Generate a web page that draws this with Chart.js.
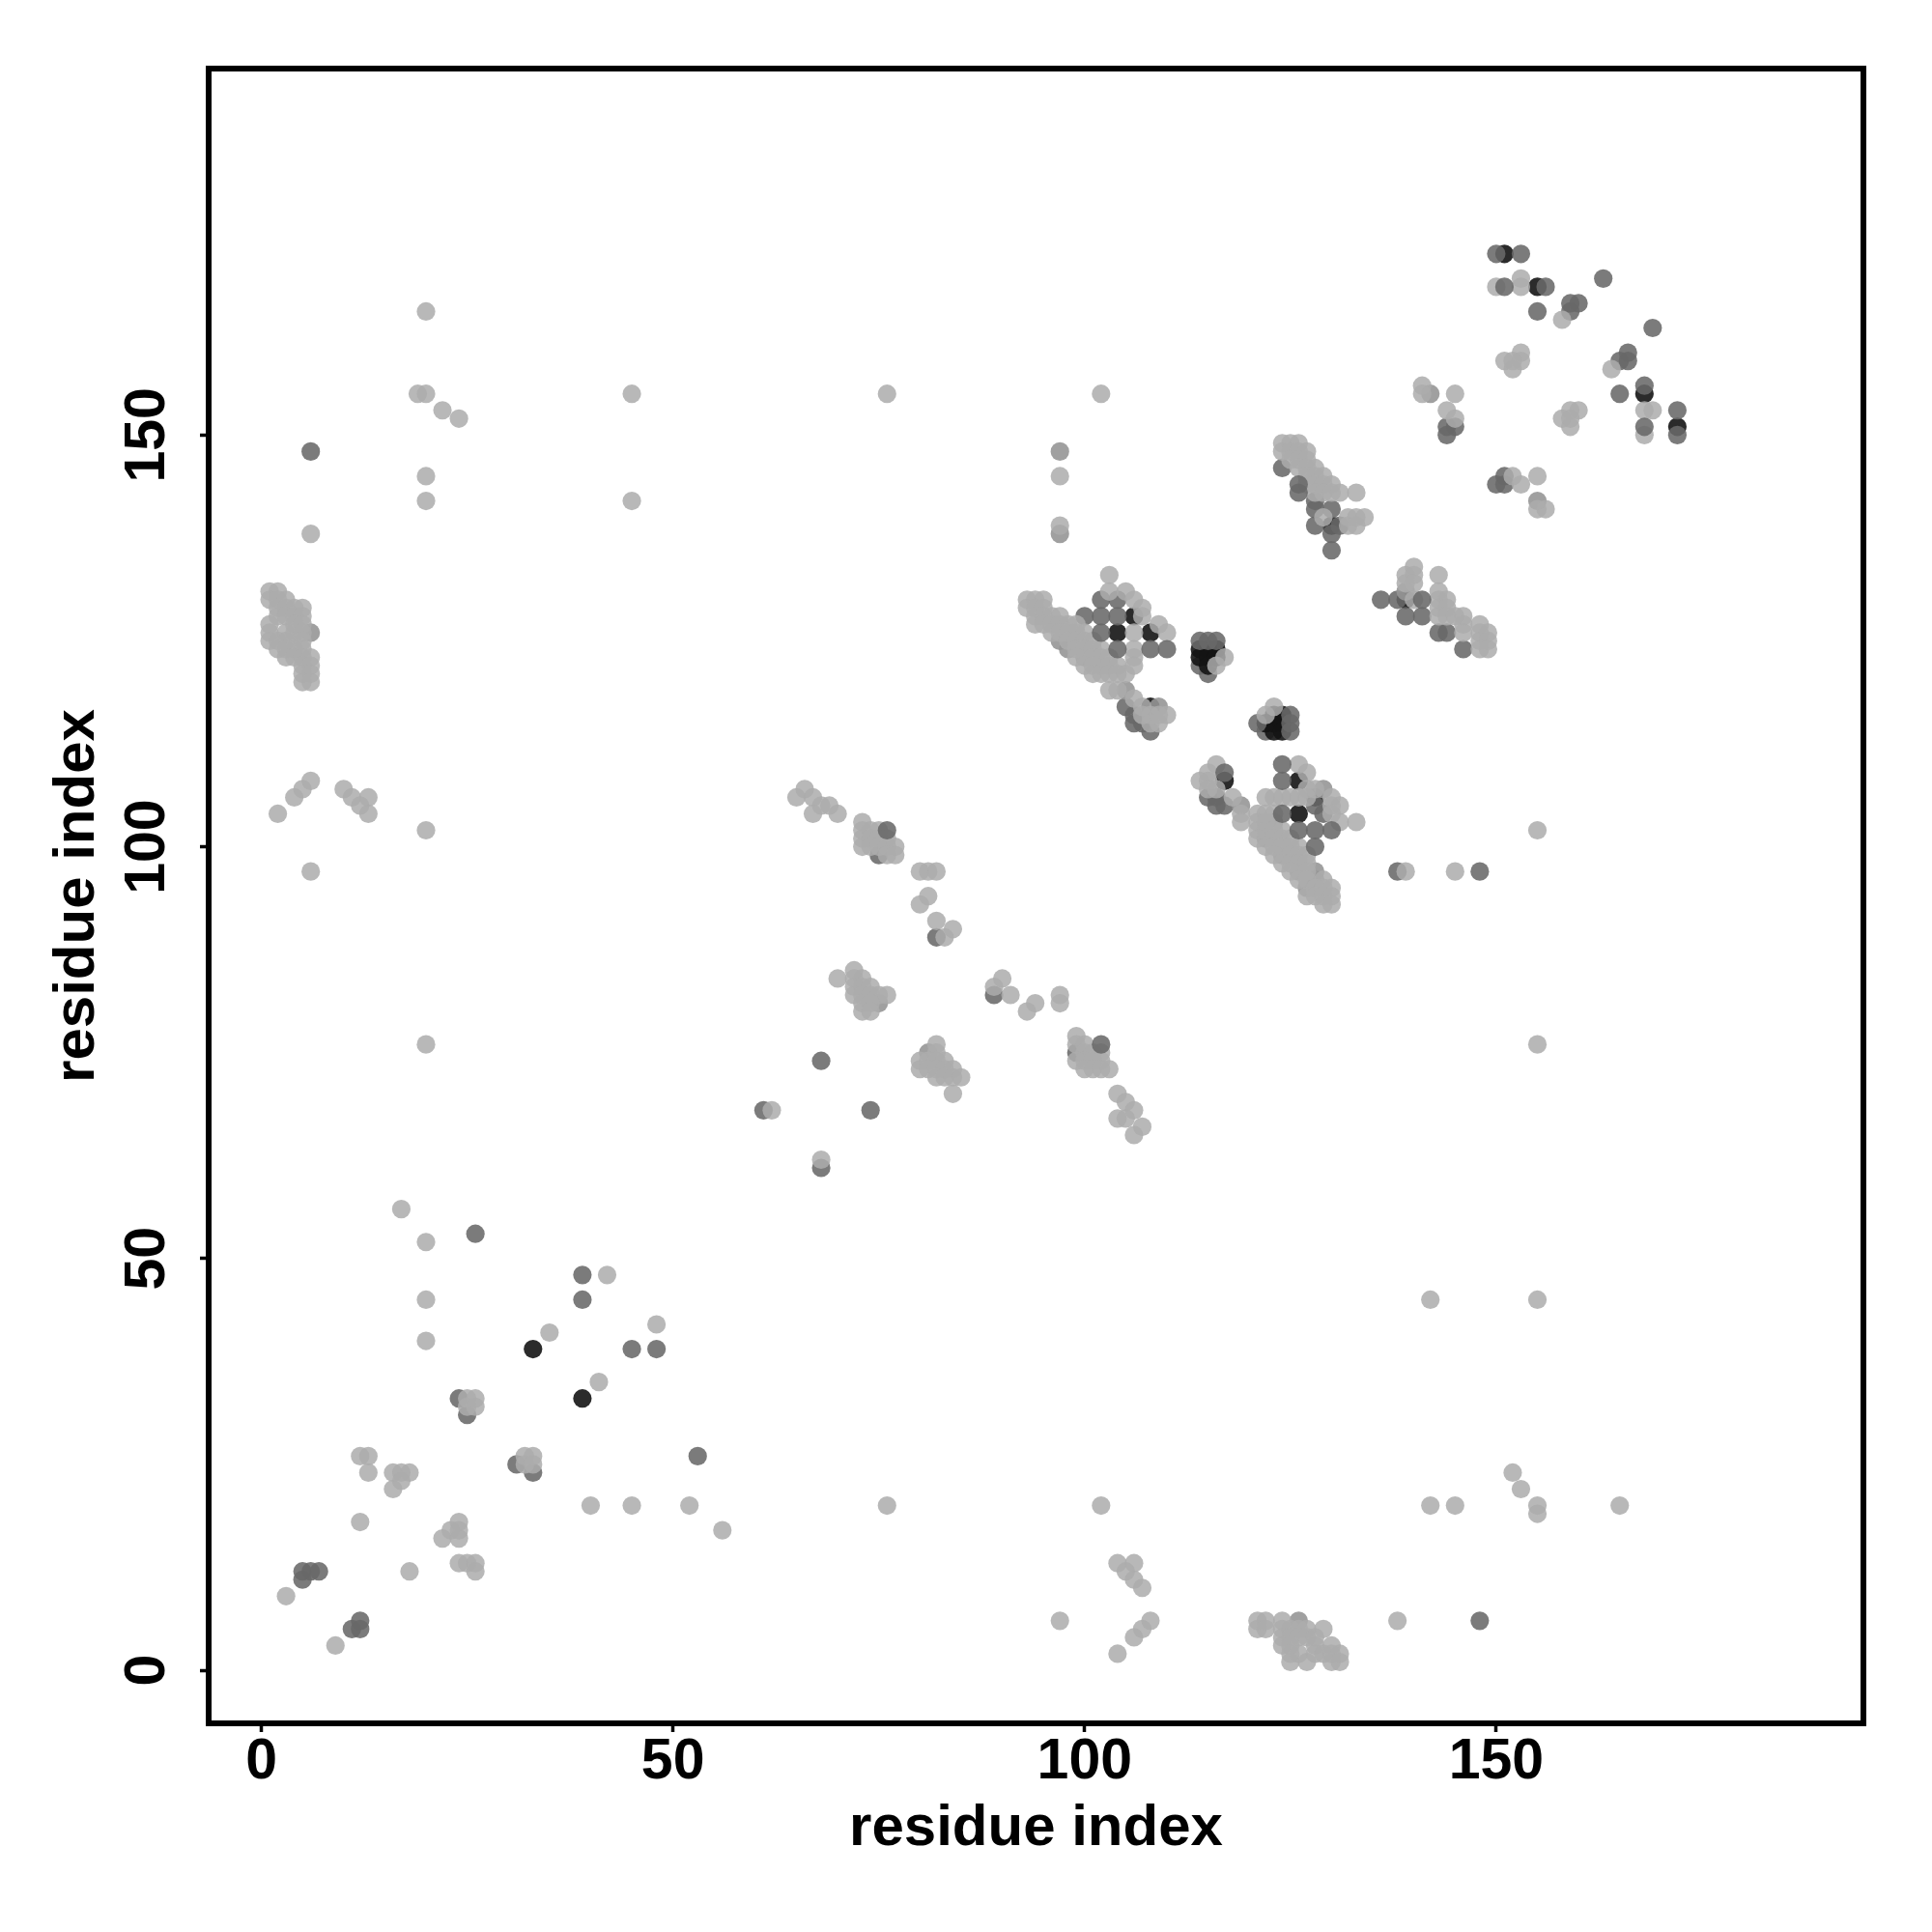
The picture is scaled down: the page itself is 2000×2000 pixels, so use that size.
<!DOCTYPE html>
<html>
<head>
<meta charset="utf-8">
<title>residue contacts</title>
<script src="https://cdn.jsdelivr.net/npm/chart.js@4"></script>
<style>
  body { margin: 0; background: #fff; }
</style>
</head>
<body>
<canvas id="contactChart" width="2000" height="2000"></canvas>
<script>
const axisTicks = [0, 50, 100, 150];
const axisTitle = "residue index";

// contacts as [x, y] pairs, one list per grey level
const underPoints = [
  [114,122],[115,121],[122,114]
];

const darkPoints = [
  [33,39],[39,33],[104,126],[108,126],[106,128],[108,117],
  [114,124],[115,124],[116,124],[114,123],[115,123],[116,123],[115,122],
  [122,115],[123,116],[123,115],[123,114],[124,116],[124,115],[124,114],
  [117,108],[126,108],[126,104],[128,106],[130,139],[139,130],
  [151,172],[155,168],[168,155],[172,151]
];

const midPoints = [
  [11,5],[12,5],[12,6],[5,12],[6,12],[7,12],[5,11],[24,33],[25,31],[31,25],[33,24],
  [53,26],[26,53],[39,48],[39,45],[45,39],[48,39],[6,148],
  [68,74],[74,68],[61,68],[68,61],[75,99],[82,89],[89,82],[99,75],
  [138,97],[148,97],
  [102,130],[104,130],[100,128],[105,117],[106,116],[106,115],[108,114],[107,115],
  [114,125],[115,125],[116,125],
  [121,115],[125,116],[125,115],[125,114],
  [115,106],[116,106],[116,105],[117,105],
  [128,105],[129,104],
  [124,146],[128,142],[128,141],[130,141],[128,139],[130,138],[130,136],[131,139],
  [136,130],[138,130],[139,128],[141,128],[143,126],[144,126],[146,124],
  [150,172],[153,172],[155,165],[159,165],[159,166],[160,166],
  [163,169],[169,163],[165,159],[166,159],[166,160],[165,155],[172,153],[172,150],
  [144,151],[145,151],[144,150],[150,144],[151,145],[151,144]
];

const palePoints = [
  [6,126],[81,75],[75,81],[97,148],[97,138],[105,119],[109,117],[119,105],[129,107],
  [128,97],[126,6],[155,142],[142,155],[139,131],[97,125],[98,124],[100,123],[102,122],
  [122,101],[124,99],[126,97],[127,95],[128,96],[123,103]
];

const lightPoints = [
  [3,9],[9,3],[12,18],[12,26],[13,26],[13,24],[16,24],[17,24],[18,24],[16,22],[17,23],[18,12],
  [22,16],[23,17],[24,18],[24,16],[24,17],[24,13],[25,13],[26,13],[26,12],
  [25,33],[25,32],[26,33],[26,32],[32,26],[33,26],[32,25],[33,25],
  [40,20],[45,20],[52,20],[56,17],[17,56],[20,52],[20,45],[20,40],[42,48],[35,41],[41,35],[48,42],
  [20,165],[19,155],[20,155],[22,153],[24,152],[20,145],[20,142],[6,138],[45,155],[45,142],[76,155],[102,155],
  [1,131],[2,131],[1,130],[2,130],[3,130],[2,129],[3,129],[4,129],[5,129],[2,128],[3,128],[4,128],[5,128],
  [1,127],[4,127],[5,127],[1,126],[3,126],[4,126],[5,126],[1,125],[2,125],[3,125],[5,125],[2,124],[3,124],[4,124],[5,124],
  [3,123],[4,123],[5,123],[6,123],[5,122],[6,122],[5,121],[6,121],[5,120],[6,120],
  [2,104],[4,106],[5,107],[6,108],[10,107],[11,106],[12,105],[13,106],[13,104],[20,102],[6,97],[20,76],
  [65,106],[66,107],[67,106],[67,104],[68,105],[69,105],[70,104],
  [73,103],[73,102],[74,102],[75,102],[73,101],[74,101],[75,101],[76,101],[73,100],[74,100],[75,100],[76,100],[77,100],[76,99],[77,99],
  [80,97],[81,97],[82,97],[80,93],[81,94],[82,91],[83,89],[84,90],
  [89,83],[90,84],[91,82],[93,80],[94,81],[97,82],[97,81],
  [70,84],[72,85],[72,84],[73,84],[72,83],[73,83],[74,83],[72,82],[73,82],[74,82],[75,82],[76,82],[73,81],[74,81],[73,80],[74,80],
  [82,76],[82,75],[80,74],[81,74],[82,74],[83,74],[80,73],[81,73],[82,73],[83,73],[84,73],[82,72],[83,72],[84,72],[85,72],[84,70],
  [62,68],[68,62],
  [99,77],[99,76],[100,76],[100,75],[101,75],[102,75],[99,74],[100,74],[101,74],[102,74],[100,73],[101,73],[102,73],[103,73],
  [104,70],[105,69],[106,68],[104,67],[105,67],[106,65],[107,66],
  [139,97],[145,97],[155,102],[155,76],[97,145],[97,139],
  [103,133],[103,131],[105,131],[106,130],[107,129],[107,128],[109,127],[110,126],[106,126],[102,124],[106,124],[106,123],[106,122],
  [93,130],[94,130],[95,130],[93,129],[94,129],[95,129],[94,128],[95,128],[96,128],[97,128],
  [94,127],[95,127],[96,127],[97,127],[98,127],[99,127],[96,126],[97,126],[98,126],[99,126],[100,126],
  [98,125],[99,125],[100,125],[101,125],[99,124],[100,124],[101,124],[99,123],[101,123],[102,123],[103,123],
  [100,122],[101,122],[103,122],[104,122],[101,121],[102,121],[103,121],[104,121],[105,121],
  [103,119],[104,119],[106,118],[107,117],[110,116],[109,115],[108,115],[107,116],[108,116],[109,116],
  [117,123],[116,122],[122,116],[123,117],
  [116,110],[115,109],[114,108],[115,108],[115,107],[116,107],[118,106],[119,104],[119,103],
  [126,110],[127,109],[127,107],[128,107],[130,106],[131,105],[130,105],[130,104],[131,103],[133,103],
  [122,106],[123,106],[124,106],[125,106],[126,106],[127,106],[126,100],
  [121,104],[122,104],[123,104],[121,103],[122,103],[121,102],[122,102],[123,102],[124,102],
  [121,101],[123,101],[124,101],[125,101],[122,100],[123,100],[124,100],[125,100],
  [123,99],[125,99],[126,99],[127,99],[124,98],[125,98],[126,98],[127,98],[125,97],[127,97],
  [126,96],[127,96],[129,96],[128,95],[129,95],[130,95],[127,94],[128,94],[129,94],[130,94],[129,93],[130,93],
  [124,149],[125,149],[126,149],[124,148],[125,148],[126,148],[127,148],[125,147],[126,147],[127,147],
  [126,146],[127,146],[128,146],[127,145],[128,145],[129,145],[127,144],[128,144],[129,144],[130,144],
  [128,143],[129,143],[130,143],[131,143],[133,143],[129,140],[132,140],[133,140],[134,140],[132,139],[133,139],
  [140,134],[139,133],[140,133],[139,132],[140,132],[140,130],[143,133],[143,131],[143,130],[144,130],[143,129],[144,129],
  [143,128],[144,128],[145,128],[146,128],[146,127],[146,126],[148,127],[149,126],[148,126],[148,125],[149,125],[148,124],[149,124],
  [150,168],[153,169],[153,168],[158,164],[164,158],[168,153],[169,153],[168,150],
  [151,159],[152,158],[153,160],[153,159],[152,159],[158,152],[159,153],[160,153],[159,151],[159,152],
  [145,155],[141,156],[141,155],[144,153],[145,152],[152,145],[153,144],[155,145],[155,141],[156,141],
  [102,20],[142,20],[145,20],[152,24],[153,22],[155,20],[155,19],[165,20],[142,45],[155,45],[76,20],
  [104,13],[106,13],[105,12],[106,11],[107,10],[97,6],[108,6],[107,5],[106,4],[104,2],[138,6],
  [121,6],[122,6],[124,6],[121,5],[122,5],[124,5],[125,5],[126,5],[127,5],[129,5],
  [124,4],[125,4],[126,4],[127,4],[128,4],[124,3],[125,3],[128,3],[130,3],
  [125,2],[126,2],[128,2],[129,2],[130,2],[131,2],[125,1],[127,1],[130,1],[131,1]
];

// mid grey dots that sit on top of the light ones
const frontPoints = [
  [76,102],[102,76],[148,6],[102,128],[104,128],[102,126],[104,124],[108,124],[110,124],
  [124,110],[124,108],[117,109],[124,104],[126,102],[128,102],[130,102],[128,100],
  [126,144],[126,143],[141,130],[151,168],[156,168],[168,156],[168,151]
];

function makeDataset(points, color) {
  return {
    data: points.map(p => ({ x: p[0], y: p[1] })),
    backgroundColor: color,
    borderWidth: 0,
    pointRadius: 9.6,
    pointHoverRadius: 9.6
  };
}

// R style box round the plot region
const frameBox = {
  id: "frameBox",
  afterDraw(chart) {
    const { ctx, chartArea } = chart;
    ctx.save();
    ctx.strokeStyle = "#000";
    ctx.lineWidth = 6;
    ctx.strokeRect(chartArea.left, chartArea.top, chartArea.width, chartArea.height);
    ctx.restore();
  }
};

function axisOptions(min, max, size, titlePadding, tickPadding, rotation) {
  return {
    type: "linear",
    min: min,
    max: max,
    afterBuildTicks: axis => { axis.ticks = axisTicks.map(v => ({ value: v })); },
    afterFit: axis => {
      if (axis.isHorizontal()) axis.height = size;
      else axis.width = size;
    },
    border: { display: false },
    grid: {
      drawOnChartArea: false,
      drawTicks: true,
      tickLength: 9,
      tickWidth: 3.5,
      tickColor: "#000"
    },
    ticks: {
      autoSkip: false,
      color: "#000",
      padding: tickPadding,
      crossAlign: rotation ? "center" : "near",
      minRotation: rotation,
      maxRotation: rotation,
      font: { family: "'Liberation Sans'", size: 59, weight: "bold" }
    },
    title: {
      display: true,
      text: axisTitle,
      color: "#000",
      padding: titlePadding,
      font: { family: "'Liberation Sans'", size: 60, weight: "bold" }
    }
  };
}

// chart.js paints the first dataset last, so this list runs from top layer to bottom layer
new Chart(document.getElementById("contactChart"), {
  type: "scatter",
  data: {
    datasets: [
      makeDataset(frontPoints, "rgba(105,105,105,0.88)"),
      makeDataset(lightPoints, "rgba(172,172,172,0.86)"),
      makeDataset(palePoints, "rgba(150,150,150,0.9)"),
      makeDataset(midPoints, "rgba(105,105,105,0.88)"),
      makeDataset(darkPoints, "rgba(20,20,20,0.9)"),
      makeDataset(underPoints, "rgba(105,105,105,0.88)")
    ]
  },
  options: {
    responsive: false,
    animation: false,
    layout: { autoPadding: false, padding: { top: 71, right: 71, left: 0, bottom: 0 } },
    plugins: { legend: { display: false }, tooltip: { enabled: false } },
    scales: {
      x: axisOptions(-6.4, 194.6, 216, { top: 0, bottom: 71 }, -4, 0),
      y: axisOptions(-6.45, 194.5, 216, { top: 44, bottom: 0 }, 4, 90)
    }
  },
  plugins: [frameBox]
});
</script>
</body>
</html>
